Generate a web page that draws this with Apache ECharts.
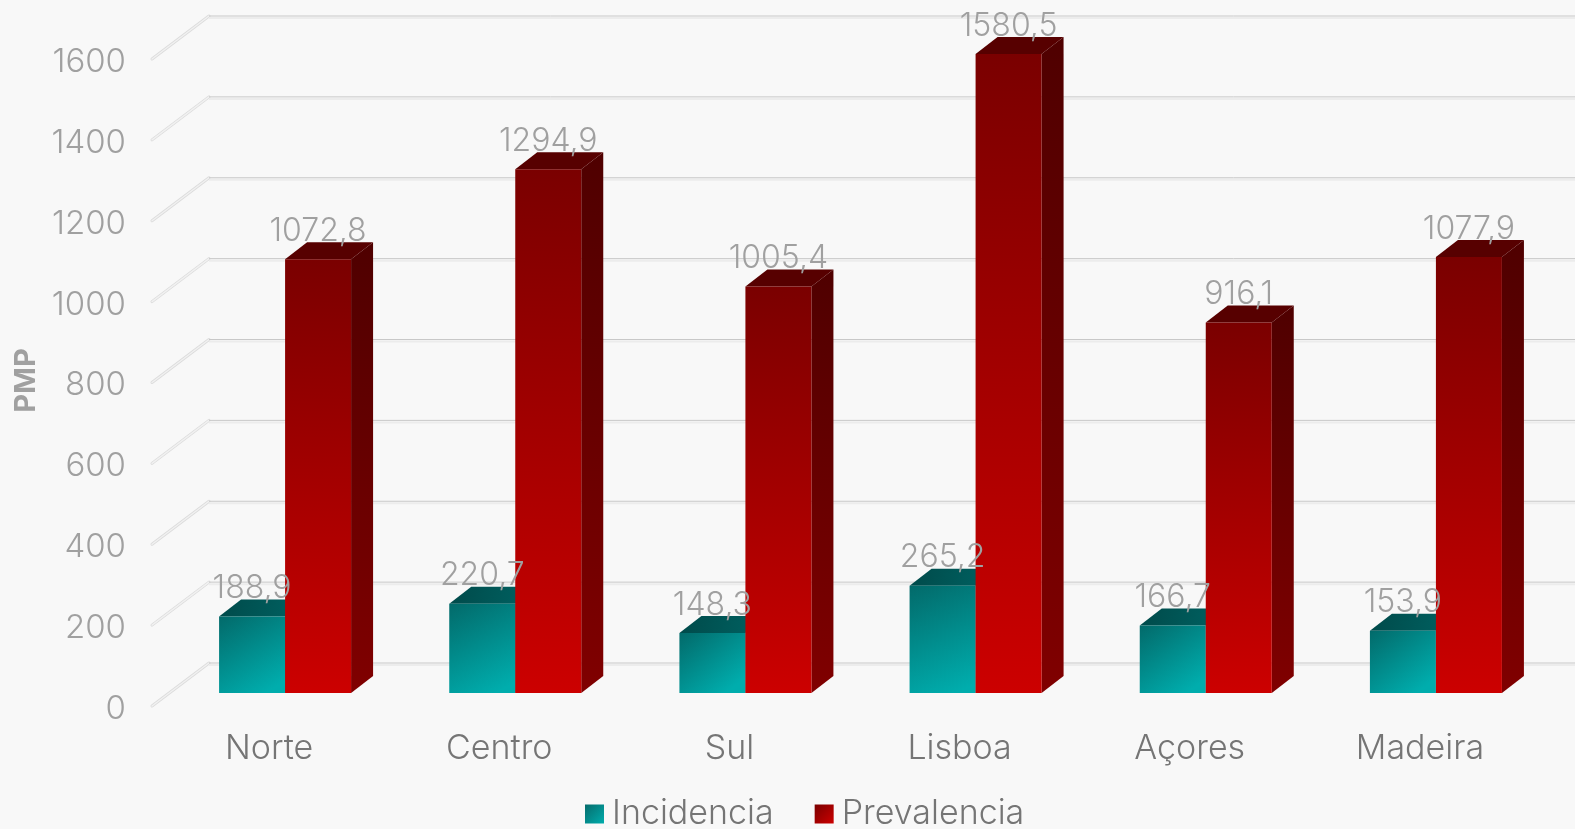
<!DOCTYPE html>
<html><head><meta charset="utf-8">
<style>html,body{margin:0;padding:0;background:#f8f8f8}#c{width:1575px;height:829px}</style>
<script src="https://cdn.jsdelivr.net/npm/echarts@6/dist/echarts.min.js"></script>
</head><body><div id="c"></div>
<script>
const categories = ['Norte','Centro','Sul','Lisboa','Açores','Madeira'];
const incidencia = [188.9,220.7,148.3,265.2,166.7,153.9];
const prevalencia = [1072.8,1294.9,1005.4,1580.5,916.1,1077.9];
const yTicks = [0,200,400,600,800,1000,1200,1400,1600];

const FONT = 'Inter';
const BAR_W = 66, SHIFT_X = 16, FLOOR_Y = 16, DX = 22, DY = 17;
const WALL_LIFT = 3, WALL_DX = 57, WALL_DY = 43;
const grad = (x2,y2,a,b) => ({type:'linear',x:0,y:0,x2,y2,colorStops:[{offset:0,color:a},{offset:1,color:b}]});
const palettes = {
  Incidencia:{front:grad(0.7,1,'#026a6a','#00adad'),top:grad(1,1,'#004a4a','#006363'),side:grad(0,1,'#004f4f','#007a7a')},
  Prevalencia:{front:grad(0.25,1,'#7a0000','#cc0000'),top:'#570000',side:grad(0,1,'#4f0000','#800000')}
};
const poly = (points,fill) => ({type:'polygon',shape:{points},style:{fill}});

function barRenderer(name,slot){
  const p = palettes[name];
  return (params,api)=>{
    const c = api.coord([api.value(0),api.value(1)]);
    const base = api.coord([api.value(0),0]);
    const l = c[0]+SHIFT_X+slot*BAR_W, r = l+BAR_W;
    const t = c[1]-FLOOR_Y, b = base[1]-FLOOR_Y;
    return {type:'group',children:[
      poly([[r,b],[r+DX,b-DY],[r+DX,t-DY],[r,t]],p.side),
      poly([[l,t],[l+DX,t-DY],[r+DX,t-DY],[r,t]],p.top),
      {type:'rect',shape:{x:l,y:t,width:BAR_W,height:b-t},style:{fill:p.front}}
    ]};
  };
}
function labelRenderer(slot){
  return (params,api)=>{
    const c = api.coord([api.value(0),api.value(1)]);
    return {type:'text',x:c[0]+SHIFT_X+slot*BAR_W+BAR_W/2,y:c[1]-FLOOR_Y-28,
      style:{text:String(api.value(1).toFixed(1)).replace('.',','),fill:'#a0a0a0',
        font:'300 32px '+FONT,align:'center',verticalAlign:'middle'}};
  };
}
function wallRenderer(params,api){
  const c = api.coord([0,api.value(0)]);
  const x0 = c[0]-api.size([1,0])[0]/2-2, y0 = c[1]-WALL_LIFT;
  const x1 = x0+WALL_DX, y1 = y0-WALL_DY;
  const line=(a,b,d,s,w,cap)=>({type:'line',shape:{x1:a,y1:b,x2:d[0],y2:d[1]},style:{stroke:s,lineWidth:w,lineCap:cap||'butt'}});
  return {type:'group',children:[
    line(x0,y0,[x1,y1],'#dcdcdc',3,'round'),
    line(x0,y0,[x1,y1],'#f1f1f1',1.4,'round'),
    line(x1,y1+2,[1575,y1+2],'#ececec',2),
    line(x1,y1,[1575,y1],'#c8c8c8',1)
  ]};
}

const catData = (vals)=>categories.map((c,i)=>[i,vals[i]]);
const option = {
  animation:false,
  backgroundColor:'#f8f8f8',
  textStyle:{fontFamily:FONT},
  grid:{left:154,width:1381,top:62,height:647,containLabel:false,outerBoundsMode:'none'},
  legend:{left:585,top:797,padding:0,itemWidth:19,itemHeight:19,itemGap:41,icon:'rect',
    data:['Incidencia','Prevalencia'],
    textStyle:{color:'#757575',fontFamily:FONT,fontWeight:300,fontSize:34,padding:[0,0,0,3]}},
  xAxis:{type:'category',data:categories,axisLine:{show:false},axisTick:{show:false},splitLine:{show:false},
    axisLabel:{color:'#757575',fontSize:34,fontWeight:300,fontFamily:FONT,margin:23}},
  yAxis:{type:'value',min:0,max:1600,interval:200,axisLine:{show:false},axisTick:{show:false},splitLine:{show:false},
    name:'PMP',nameLocation:'middle',nameGap:113,nameTextStyle:{color:'#a0a0a0',fontSize:29,fontWeight:'bold',fontFamily:FONT,padding:[0,0,0,10]},
    axisLabel:{color:'#a0a0a0',fontSize:33,fontWeight:300,fontFamily:FONT,margin:28,formatter:v=>String(v)}},
  series:[
    {type:'custom',name:'walls',z:1,silent:true,clip:false,renderItem:wallRenderer,data:yTicks.map(v=>[v]),encode:{y:0}},
    {type:'custom',name:'Incidencia',z:2,clip:false,renderItem:barRenderer('Incidencia',-1),data:catData(incidencia),encode:{x:0,y:1},
      itemStyle:{color:grad(1,1,'#066c6c','#00acac')}},
    {type:'custom',name:'Prevalencia',z:3,clip:false,renderItem:barRenderer('Prevalencia',0),data:catData(prevalencia),encode:{x:0,y:1},
      itemStyle:{color:grad(1,1,'#7a0000','#cc0000')}},
    {type:'custom',name:'Incidencia labels',z:4,silent:true,clip:false,renderItem:labelRenderer(-1),data:catData(incidencia),encode:{x:0,y:1}},
    {type:'custom',name:'Prevalencia labels',z:4,silent:true,clip:false,renderItem:labelRenderer(0),data:catData(prevalencia),encode:{x:0,y:1}}
  ]
};
echarts.init(document.getElementById('c')).setOption(option);
</script></body></html>
